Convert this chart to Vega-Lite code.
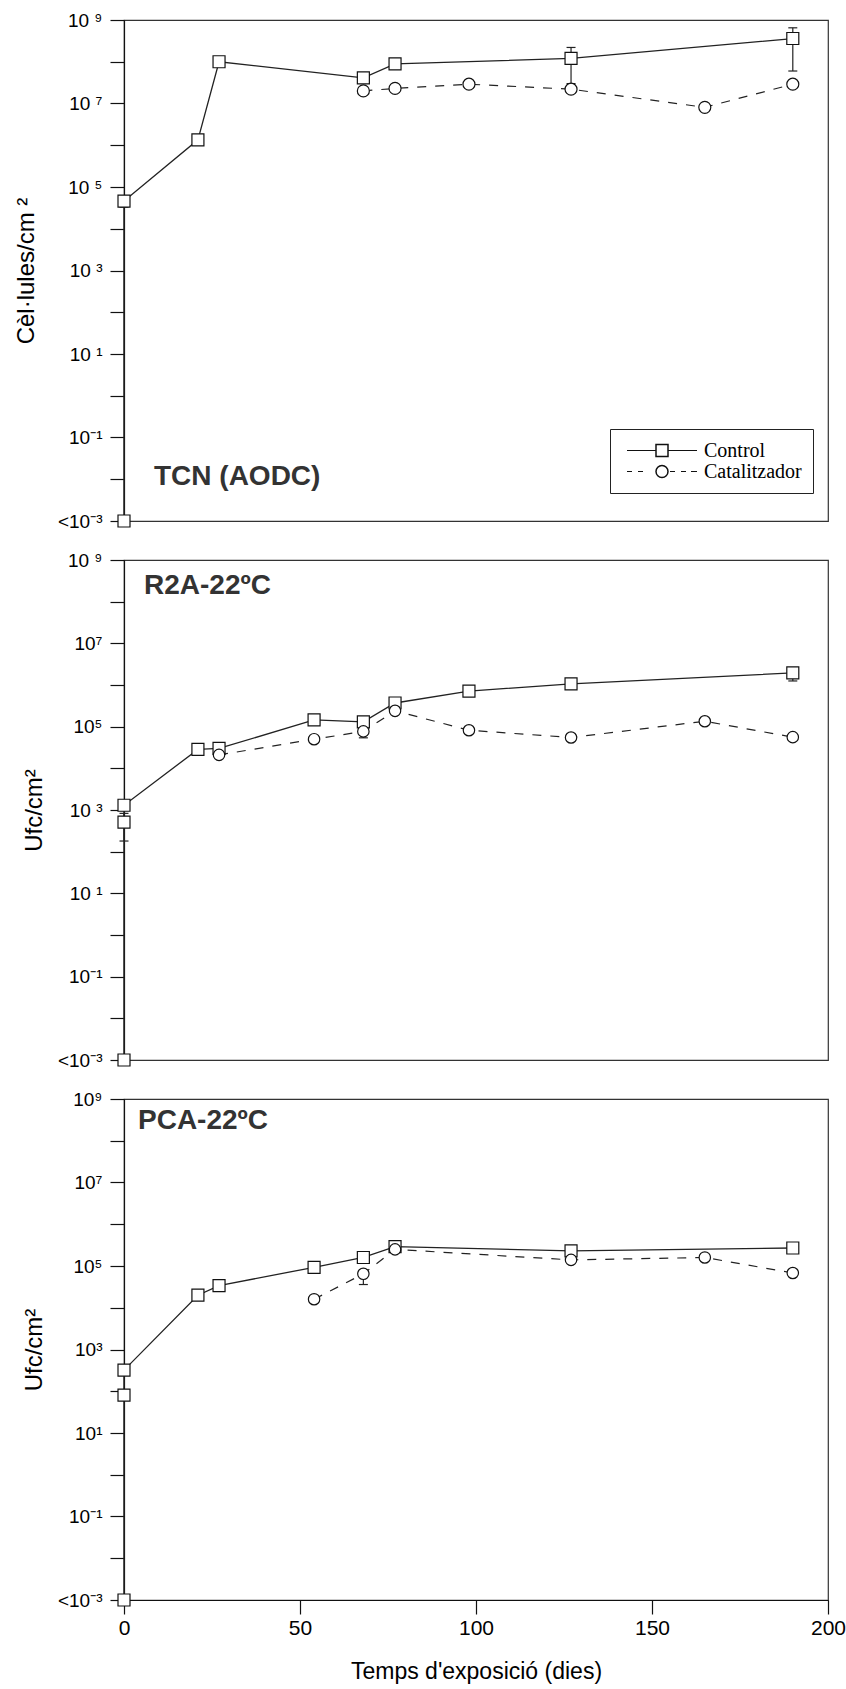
{
  "$schema": "https://vega.github.io/schema/vega-lite/v6.json",
  "background": "white",
  "autosize": {"type": "pad"},
  "padding": {"left": 13, "top": 10, "right": 5, "bottom": 5},
  "datasets": {
    "rows": [
      {"panel": "TCN", "series": "Control", "day": 0, "value": 0.001},
      {"panel": "TCN", "series": "Control", "day": 0, "value": 46000, "lo": 33000},
      {"panel": "TCN", "series": "Control", "day": 21, "value": 1350000},
      {"panel": "TCN", "series": "Control", "day": 27, "value": 100000000},
      {"panel": "TCN", "series": "Control", "day": 68, "value": 41000000},
      {"panel": "TCN", "series": "Control", "day": 77, "value": 89000000},
      {"panel": "TCN", "series": "Control", "day": 127, "value": 120000000, "lo": 30000000, "hi": 220000000},
      {"panel": "TCN", "series": "Control", "day": 190, "value": 360000000, "lo": 60000000, "hi": 650000000},
      {"panel": "TCN", "series": "Catalitzador", "day": 68, "value": 20000000},
      {"panel": "TCN", "series": "Catalitzador", "day": 77, "value": 23000000},
      {"panel": "TCN", "series": "Catalitzador", "day": 98, "value": 29000000},
      {"panel": "TCN", "series": "Catalitzador", "day": 127, "value": 22000000},
      {"panel": "TCN", "series": "Catalitzador", "day": 165, "value": 8100000},
      {"panel": "TCN", "series": "Catalitzador", "day": 190, "value": 29000000},

      {"panel": "R2A", "series": "Control", "day": 0, "value": 0.001},
      {"panel": "R2A", "series": "Control", "day": 0, "value": 510, "lo": 180, "hi": 830},
      {"panel": "R2A", "series": "Control", "day": 0, "value": 1300},
      {"panel": "R2A", "series": "Control", "day": 21, "value": 28500},
      {"panel": "R2A", "series": "Control", "day": 27, "value": 30000},
      {"panel": "R2A", "series": "Control", "day": 54, "value": 145000},
      {"panel": "R2A", "series": "Control", "day": 68, "value": 130000},
      {"panel": "R2A", "series": "Control", "day": 77, "value": 370000},
      {"panel": "R2A", "series": "Control", "day": 98, "value": 710000},
      {"panel": "R2A", "series": "Control", "day": 127, "value": 1070000},
      {"panel": "R2A", "series": "Control", "day": 190, "value": 1950000, "lo": 1250000},
      {"panel": "R2A", "series": "Catalitzador", "day": 27, "value": 21000},
      {"panel": "R2A", "series": "Catalitzador", "day": 54, "value": 50000},
      {"panel": "R2A", "series": "Catalitzador", "day": 68, "value": 77000, "lo": 54000},
      {"panel": "R2A", "series": "Catalitzador", "day": 77, "value": 240000},
      {"panel": "R2A", "series": "Catalitzador", "day": 98, "value": 82000},
      {"panel": "R2A", "series": "Catalitzador", "day": 127, "value": 55000},
      {"panel": "R2A", "series": "Catalitzador", "day": 165, "value": 135000},
      {"panel": "R2A", "series": "Catalitzador", "day": 190, "value": 56000},

      {"panel": "PCA", "series": "Control", "day": 0, "value": 0.001},
      {"panel": "PCA", "series": "Control", "day": 0, "value": 81},
      {"panel": "PCA", "series": "Control", "day": 0, "value": 320},
      {"panel": "PCA", "series": "Control", "day": 21, "value": 20000},
      {"panel": "PCA", "series": "Control", "day": 27, "value": 34000},
      {"panel": "PCA", "series": "Control", "day": 54, "value": 93000},
      {"panel": "PCA", "series": "Control", "day": 68, "value": 160000},
      {"panel": "PCA", "series": "Control", "day": 77, "value": 290000},
      {"panel": "PCA", "series": "Control", "day": 127, "value": 230000},
      {"panel": "PCA", "series": "Control", "day": 190, "value": 270000},
      {"panel": "PCA", "series": "Catalitzador", "day": 54, "value": 16000},
      {"panel": "PCA", "series": "Catalitzador", "day": 68, "value": 65000, "lo": 36000},
      {"panel": "PCA", "series": "Catalitzador", "day": 77, "value": 250000},
      {"panel": "PCA", "series": "Catalitzador", "day": 127, "value": 140000},
      {"panel": "PCA", "series": "Catalitzador", "day": 165, "value": 160000},
      {"panel": "PCA", "series": "Catalitzador", "day": 190, "value": 68000}
    ]
  },
  "spacing": 39,
  "bounds": "flush",
  "resolve": {"scale": {"shape": "independent", "strokeDash": "independent"}, "legend": {"shape": "independent", "strokeDash": "independent"}},
  "vconcat": [
    {
      "width": 704, "height": 501,
      "title": {"text": "TCN (AODC)", "orient": "bottom", "anchor": "start", "frame": "group", "offset": 0, "baseline": "alphabetic", "dx": 30, "dy": -46, "fontSize": 28, "fontWeight": "bold", "font": "Liberation Sans", "color": "#333"},
      "data": {"name": "rows"},
      "transform": [{"filter": "datum.panel == 'TCN'"}],
      "encoding": {
        "x": {"field": "day", "type": "quantitative", "scale": {"domain": [0, 200], "nice": false}, "axis": null},
        "y": {"field": "value", "type": "quantitative", "scale": {"type": "log", "domain": [0.001, 1000000000], "nice": false},
              "axis": {"title": "Cèl·lules/cm ²", "titlePadding": 19, "values": [0.001, 0.01, 0.1, 1, 10, 100, 1000, 10000, 100000, 1000000, 10000000, 100000000, 1000000000],
                       "labelExpr": "['<10⁻³','','10⁻¹','','10 ¹','','10 ³','','10 ⁵','','10 ⁷','','10 ⁹'][round(log(datum.value)/LN10)+3]"}}
      },
      "layer": [
        {"transform": [{"filter": "isValid(datum.lo)"}], "mark": {"type": "rule", "color": "#222", "strokeWidth": 1.2}, "encoding": {"y2": {"field": "lo"}}},
        {"transform": [{"filter": "isValid(datum.hi)"}], "mark": {"type": "rule", "color": "#222", "strokeWidth": 1.2}, "encoding": {"y2": {"field": "hi"}}},
        {"transform": [{"filter": "isValid(datum.lo)"}], "mark": {"type": "tick", "orient": "horizontal", "color": "#222", "size": 9, "thickness": 1.2, "opacity": 1},
         "encoding": {"y": {"field": "lo", "type": "quantitative", "scale": {"type": "log", "domain": [0.001, 1000000000], "nice": false}}}},
        {"transform": [{"filter": "isValid(datum.hi)"}], "mark": {"type": "tick", "orient": "horizontal", "color": "#222", "size": 9, "thickness": 1.2, "opacity": 1},
         "encoding": {"y": {"field": "hi", "type": "quantitative", "scale": {"type": "log", "domain": [0.001, 1000000000], "nice": false}}}},
        {"transform": [{"filter": "datum.series == 'Control'"}], "mark": {"type": "line", "color": "#222", "strokeWidth": 1.3}, "encoding": {}},
        {"transform": [{"filter": "datum.series == 'Catalitzador'"}], "mark": {"type": "line", "color": "#222", "strokeWidth": 1.2, "strokeDash": [9, 9]}, "encoding": {}},
        {"transform": [{"filter": "false"}],
         "mark": {"type": "line", "color": "#111", "strokeWidth": 1.2},
         "encoding": {"strokeDash": {"field": "series", "type": "nominal",
           "scale": {"domain": ["Control ", "Catalitzador "], "range": [[29, 12, 29], [5, 6, 5, 27, 5, 6, 5, 5, 6]]},
           "legend": {"title": null, "orient": "none", "legendX": 486, "legendY": 409, "padding": 11, "clipHeight": 21,
             "labelFont": "Liberation Serif", "labelFontSize": 20, "labelExpr": "''", "symbolType": "stroke", "symbolSize": 4900, "symbolOffset": 5, "labelOffset": 2, "rowPadding": 0,
             "symbolStrokeColor": "#111", "symbolStrokeWidth": 1.2}}}},
        {"mark": {"type": "point", "fill": "white", "stroke": "#111", "strokeWidth": 1.2, "opacity": 1, "size": 144},
         "encoding": {"shape": {"field": "series", "type": "nominal",
           "scale": {"domain": ["Control", "Catalitzador"], "range": ["square", "circle"]},
           "legend": {"title": null, "orient": "none", "legendX": 486, "legendY": 409, "padding": 11, "clipHeight": 21, "strokeColor": "#222",
             "labelFont": "Liberation Serif", "labelFontSize": 20, "labelColor": "black", "symbolSize": 144, "symbolOffset": 31, "labelOffset": 32, "rowPadding": 0}}}}
      ]
    },
    {
      "width": 704, "height": 500,
      "title": {"text": "R2A-22ºC", "orient": "bottom", "anchor": "start", "frame": "group", "offset": 0, "baseline": "alphabetic", "dx": 20, "dy": -476, "fontSize": 28, "fontWeight": "bold", "font": "Liberation Sans", "color": "#333"},
      "data": {"name": "rows"},
      "transform": [{"filter": "datum.panel == 'R2A'"}],
      "encoding": {
        "x": {"field": "day", "type": "quantitative", "scale": {"domain": [0, 200], "nice": false}, "axis": null},
        "y": {"field": "value", "type": "quantitative", "scale": {"type": "log", "domain": [0.001, 1000000000], "nice": false},
              "axis": {"title": "Ufc/cm²", "titlePadding": 11, "values": [0.001, 0.01, 0.1, 1, 10, 100, 1000, 10000, 100000, 1000000, 10000000, 100000000, 1000000000],
                       "labelExpr": "['<10⁻³','','10⁻¹','','10 ¹','','10 ³','','10⁵','','10⁷','','10 ⁹'][round(log(datum.value)/LN10)+3]"}}
      },
      "layer": [
        {"transform": [{"filter": "isValid(datum.lo)"}], "mark": {"type": "rule", "color": "#222", "strokeWidth": 1.2}, "encoding": {"y2": {"field": "lo"}}},
        {"transform": [{"filter": "isValid(datum.hi)"}], "mark": {"type": "rule", "color": "#222", "strokeWidth": 1.2}, "encoding": {"y2": {"field": "hi"}}},
        {"transform": [{"filter": "isValid(datum.lo)"}], "mark": {"type": "tick", "orient": "horizontal", "color": "#222", "size": 9, "thickness": 1.2, "opacity": 1},
         "encoding": {"y": {"field": "lo", "type": "quantitative", "scale": {"type": "log", "domain": [0.001, 1000000000], "nice": false}}}},
        {"transform": [{"filter": "isValid(datum.hi)"}], "mark": {"type": "tick", "orient": "horizontal", "color": "#222", "size": 9, "thickness": 1.2, "opacity": 1},
         "encoding": {"y": {"field": "hi", "type": "quantitative", "scale": {"type": "log", "domain": [0.001, 1000000000], "nice": false}}}},
        {"transform": [{"filter": "datum.series == 'Control'"}], "mark": {"type": "line", "color": "#222", "strokeWidth": 1.3}, "encoding": {}},
        {"transform": [{"filter": "datum.series == 'Catalitzador'"}], "mark": {"type": "line", "color": "#222", "strokeWidth": 1.2, "strokeDash": [9, 9]}, "encoding": {}},
        {"transform": [{"filter": "datum.series == 'Control'"}], "mark": {"type": "point", "shape": "square", "fill": "white", "stroke": "#111", "strokeWidth": 1.2, "opacity": 1, "size": 144}, "encoding": {}},
        {"transform": [{"filter": "datum.series == 'Catalitzador'"}], "mark": {"type": "point", "shape": "circle", "fill": "white", "stroke": "#111", "strokeWidth": 1.2, "opacity": 1, "size": 130}, "encoding": {}}
      ]
    },
    {
      "width": 704, "height": 501,
      "title": {"text": "PCA-22ºC", "orient": "bottom", "anchor": "start", "frame": "group", "offset": 0, "baseline": "alphabetic", "dx": 14, "dy": -554, "fontSize": 28, "fontWeight": "bold", "font": "Liberation Sans", "color": "#333"},
      "data": {"name": "rows"},
      "transform": [{"filter": "datum.panel == 'PCA'"}],
      "encoding": {
        "x": {"field": "day", "type": "quantitative", "scale": {"domain": [0, 200], "nice": false},
              "axis": {"title": "Temps d'exposició (dies)", "values": [0, 50, 100, 150, 200], "tickSize": 14, "labelFontSize": 21, "titleFontSize": 23, "labelPadding": 3, "titlePadding": 22}},
        "y": {"field": "value", "type": "quantitative", "scale": {"type": "log", "domain": [0.001, 1000000000], "nice": false},
              "axis": {"title": "Ufc/cm²", "titlePadding": 11, "values": [0.001, 0.01, 0.1, 1, 10, 100, 1000, 10000, 100000, 1000000, 10000000, 100000000, 1000000000],
                       "labelExpr": "['<10⁻³','','10⁻¹','','10¹','','10³','','10⁵','','10⁷','','10⁹'][round(log(datum.value)/LN10)+3]"}}
      },
      "layer": [
        {"transform": [{"filter": "isValid(datum.lo)"}], "mark": {"type": "rule", "color": "#222", "strokeWidth": 1.2}, "encoding": {"y2": {"field": "lo"}}},
        {"transform": [{"filter": "isValid(datum.hi)"}], "mark": {"type": "rule", "color": "#222", "strokeWidth": 1.2}, "encoding": {"y2": {"field": "hi"}}},
        {"transform": [{"filter": "isValid(datum.lo)"}], "mark": {"type": "tick", "orient": "horizontal", "color": "#222", "size": 9, "thickness": 1.2, "opacity": 1},
         "encoding": {"y": {"field": "lo", "type": "quantitative", "scale": {"type": "log", "domain": [0.001, 1000000000], "nice": false}}}},
        {"transform": [{"filter": "isValid(datum.hi)"}], "mark": {"type": "tick", "orient": "horizontal", "color": "#222", "size": 9, "thickness": 1.2, "opacity": 1},
         "encoding": {"y": {"field": "hi", "type": "quantitative", "scale": {"type": "log", "domain": [0.001, 1000000000], "nice": false}}}},
        {"transform": [{"filter": "datum.series == 'Control'"}], "mark": {"type": "line", "color": "#222", "strokeWidth": 1.3}, "encoding": {}},
        {"transform": [{"filter": "datum.series == 'Catalitzador'"}], "mark": {"type": "line", "color": "#222", "strokeWidth": 1.2, "strokeDash": [9, 9]}, "encoding": {}},
        {"transform": [{"filter": "datum.series == 'Control'"}], "mark": {"type": "point", "shape": "square", "fill": "white", "stroke": "#111", "strokeWidth": 1.2, "opacity": 1, "size": 144}, "encoding": {}},
        {"transform": [{"filter": "datum.series == 'Catalitzador'"}], "mark": {"type": "point", "shape": "circle", "fill": "white", "stroke": "#111", "strokeWidth": 1.2, "opacity": 1, "size": 130}, "encoding": {}}
      ]
    }
  ],
  "config": {
    "font": "Liberation Sans",
    "view": {"stroke": "#333", "strokeWidth": 1.2},
    "axis": {
      "grid": false, "domainColor": "#111", "domainWidth": 1.2, "tickColor": "#111", "tickWidth": 1.2, "tickSize": 14,
      "labelFont": "Liberation Sans", "labelFontSize": 19, "labelColor": "black", "labelPadding": 8, "labelOverlap": false, "labelFlush": false,
      "titleFont": "Liberation Sans", "titleFontSize": 24, "titleFontWeight": "normal", "titleColor": "black", "titlePadding": 10
    }
  }
}
